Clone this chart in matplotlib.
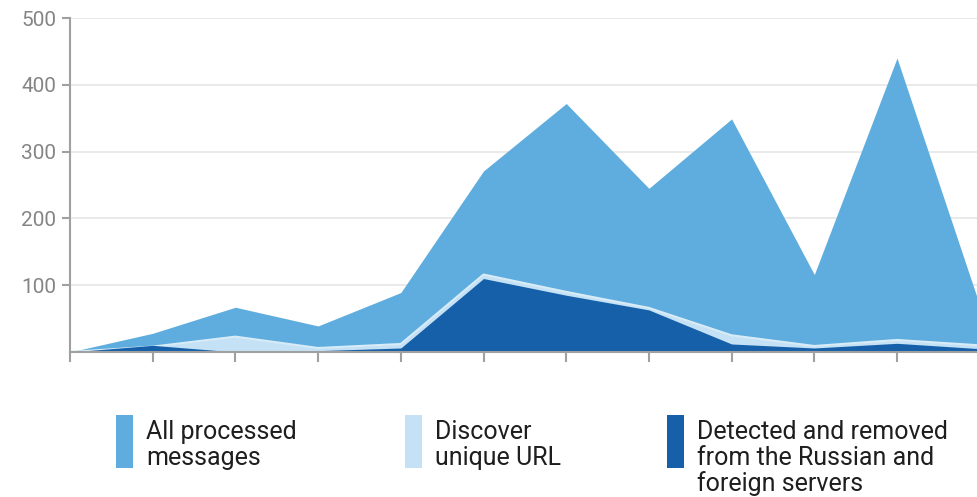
import matplotlib
matplotlib.use("Agg")
import matplotlib.pyplot as plt
from matplotlib.patches import Rectangle
import numpy as np

# values, one point per tick
all_processed = [0, 28, 67, 39, 89, 271, 372, 245, 349, 116, 440, 70]
unique_url = [0, 8, 23, 6, 12, 116, 90, 66, 25, 9, 18, 10]
removed = [0, 10, 0, 2, 6, 110, 85, 63, 12, 6, 13, 5]
y_ticks = [100, 200, 300, 400, 500]

legend_labels = ["All processed\nmessages", "Discover\nunique URL",
                 "Detected and removed\nfrom the Russian and\nforeign servers"]
colors = ["#5eadde", "#c4e1f5", "#1560a9"]

plt.rcParams['font.family'] = ['Roboto', 'DejaVu Sans']

fig = plt.figure(figsize=(9.77, 4.97), dpi=100)
W, H = 977, 497
ax = fig.add_axes([70 / W, 1 - 352 / H, 1 - 70 / W, (352 - 18) / H])

x = np.arange(len(all_processed))
ax.fill_between(x, 0, all_processed, color=colors[0], lw=0, zorder=2)
ax.fill_between(x, 0, unique_url, color=colors[1], lw=0, zorder=3)
ax.plot(x, unique_url, color="#d8ecf8", lw=1.5, zorder=3)
ax.fill_between(x, 0, removed, color=colors[2], lw=0, zorder=4)

ax.set_xlim(0, (977 - 70) / 82.7)
ax.set_ylim(0, 500)
ax.set_yticks(y_ticks)
ax.set_xticks(x[:11])
ax.set_xticklabels([])
ax.yaxis.grid(True, color="#e6e6e6", lw=1.2, zorder=0)
ax.set_axisbelow(True)

for s in ["top", "right"]:
    ax.spines[s].set_visible(False)
for s in ["left", "bottom"]:
    ax.spines[s].set_color("#a0a0a0")
    ax.spines[s].set_linewidth(1.5)
    ax.spines[s].set_zorder(5)
ax.tick_params(axis="y", length=6, width=1.5, color="#a0a0a0",
               labelsize=15, labelcolor="#858585", pad=4)
ax.tick_params(axis="x", length=7, width=1.5, color="#a0a0a0")

# legend: tall colour bars with text beside them
bar_x = [116, 405, 667]
for bx, c, lab in zip(bar_x, colors, legend_labels):
    fig.add_artist(Rectangle((bx / W, 1 - 468 / H), 17 / W, 53 / H,
                             transform=fig.transFigure, color=c, lw=0))
    fig.text((bx + 30) / W, 1 - 420 / H, lab, fontsize=18, color="#1e1e1e",
             va="top", ha="left", linespacing=1.08)

fig.savefig("out.png", dpi=100)
